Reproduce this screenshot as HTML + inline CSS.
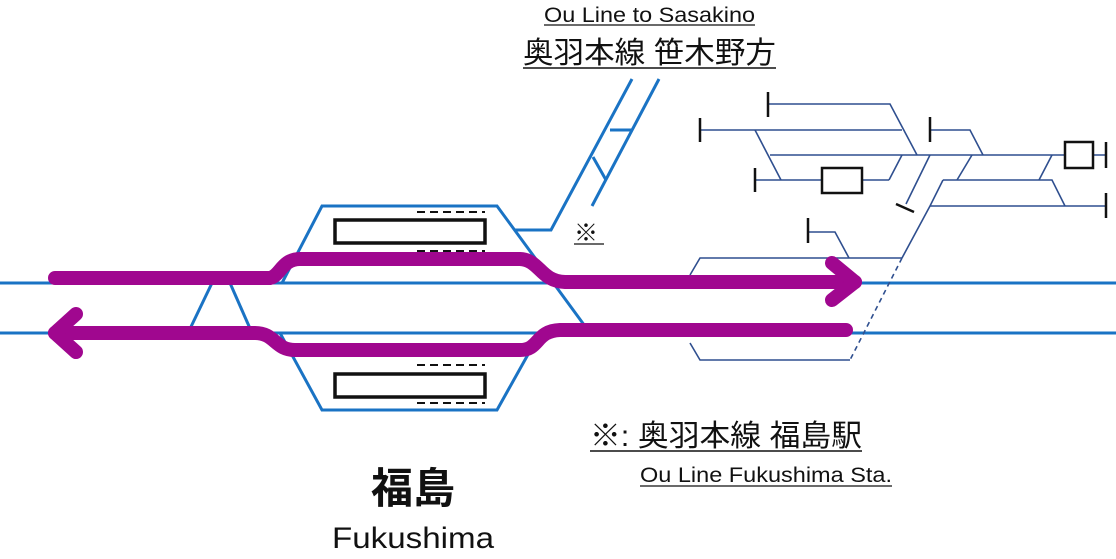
<!DOCTYPE html>
<html><head><meta charset="utf-8"><style>
html,body{margin:0;padding:0;background:#fff;width:1116px;height:559px;overflow:hidden}
svg{display:block}
text{font-family:"Liberation Sans","Noto Sans CJK JP",sans-serif;fill:#111}
</style></head><body>
<svg width="1116" height="559" viewBox="0 0 1116 559">
<g fill="none" stroke="#1a73c4" stroke-width="3">
<line x1="0" y1="283" x2="1116" y2="283"/>
<line x1="0" y1="333" x2="1116" y2="333"/>
<polyline points="282,283 322,206 497,206 590,333"/>
<polyline points="280,333 322,410 497,410 540,333"/>
<line x1="212" y1="283" x2="188" y2="333"/>
<line x1="230" y1="283" x2="252" y2="333"/>
<polyline points="515,230 551,230 632,79"/>
<line x1="659" y1="79" x2="592" y2="206"/>
<line x1="610" y1="130" x2="633" y2="130"/>
<line x1="593" y1="157" x2="606" y2="180"/>
</g>
<g fill="none" stroke="#111" stroke-width="3.5">
<rect x="335" y="220" width="150" height="23"/>
<rect x="335" y="374" width="150" height="23"/>
</g>
<g stroke="#111" stroke-width="2" stroke-dasharray="8,5">
<line x1="417" y1="212" x2="485" y2="212"/>
<line x1="417" y1="251" x2="485" y2="251"/>
<line x1="417" y1="365" x2="485" y2="365"/>
<line x1="417" y1="403" x2="485" y2="403"/>
</g>
<g fill="none" stroke="#2f4f8f" stroke-width="1.6">
<polyline points="768,104 890,104 917,155"/>
<line x1="700" y1="130" x2="902" y2="130"/>
<line x1="755" y1="130" x2="781" y2="180"/>
<line x1="770" y1="155" x2="1106" y2="155"/>
<line x1="902" y1="155" x2="889" y2="180"/>
<line x1="755" y1="180" x2="889" y2="180"/>
<polyline points="930,130 970,130 983,155"/>
<line x1="930" y1="155" x2="906" y2="204"/>
<line x1="972" y1="155" x2="957" y2="180"/>
<polyline points="943,180 1052,180 1065,206"/>
<line x1="1052" y1="155" x2="1039" y2="180"/>
<line x1="930" y1="206" x2="1106" y2="206"/>
<polyline points="943,180 930,206 902,258"/>
<polyline points="808,232 835,232 849,258"/>
<polyline points="690,275 700,258 902,258"/>
<polyline points="690,343 700,360 850,360"/>
<line x1="902" y1="258" x2="850" y2="360" stroke-dasharray="5,4"/>
</g>
<g stroke="#111" stroke-width="2.5" fill="none">
<line x1="768" y1="92" x2="768" y2="117"/>
<line x1="700" y1="118" x2="700" y2="142"/>
<line x1="755" y1="168" x2="755" y2="192"/>
<line x1="930" y1="117" x2="930" y2="142"/>
<line x1="1106" y1="142" x2="1106" y2="168"/>
<line x1="1106" y1="193" x2="1106" y2="218"/>
<line x1="808" y1="218" x2="808" y2="243"/>
<line x1="896" y1="204" x2="914" y2="212"/>
<rect x="822" y="168" width="40" height="25" fill="#fff"/>
<rect x="1065" y="142" width="28" height="26" fill="#fff"/>
</g>
<g fill="none" stroke="#a0078f" stroke-width="14" stroke-linecap="round" stroke-linejoin="round">
<path d="M55,278 L270,278 C280,276 282,259 300,259 L520,259 C540,260 540,281 565,282 L855,282"/>
<polyline points="832,263 855,282 832,300"/>
<path d="M846,330 L560,330 C535,331 540,350 520,350 L295,350 C275,350 275,333 255,333 L55,333"/>
<polyline points="76,314 55,333 76,352"/>
</g>
<text x="544" y="22" font-size="21" textLength="211" lengthAdjust="spacingAndGlyphs">Ou Line to Sasakino</text>
<line x1="544" y1="25" x2="755" y2="25" stroke="#111" stroke-width="1.3"/>
<text x="523" y="63" font-size="30" textLength="253" lengthAdjust="spacingAndGlyphs">奥羽本線 笹木野方</text>
<line x1="523" y1="68" x2="776" y2="68" stroke="#111" stroke-width="1.5"/>
<text x="574" y="241" font-size="24">※</text>
<line x1="574" y1="244" x2="604" y2="244" stroke="#111" stroke-width="1.3"/>
<text x="590" y="446" font-size="30" textLength="272" lengthAdjust="spacingAndGlyphs">※: 奥羽本線 福島駅</text>
<line x1="590" y1="451" x2="862" y2="451" stroke="#111" stroke-width="1.5"/>
<text x="640" y="482" font-size="21" textLength="252" lengthAdjust="spacingAndGlyphs">Ou Line Fukushima Sta.</text>
<line x1="640" y1="486" x2="892" y2="486" stroke="#111" stroke-width="1.3"/>
<text x="413" y="503" font-size="42" text-anchor="middle" font-weight="bold">福島</text>
<text x="332" y="548" font-size="30" textLength="162" lengthAdjust="spacingAndGlyphs">Fukushima</text>
</svg>
</body></html>
